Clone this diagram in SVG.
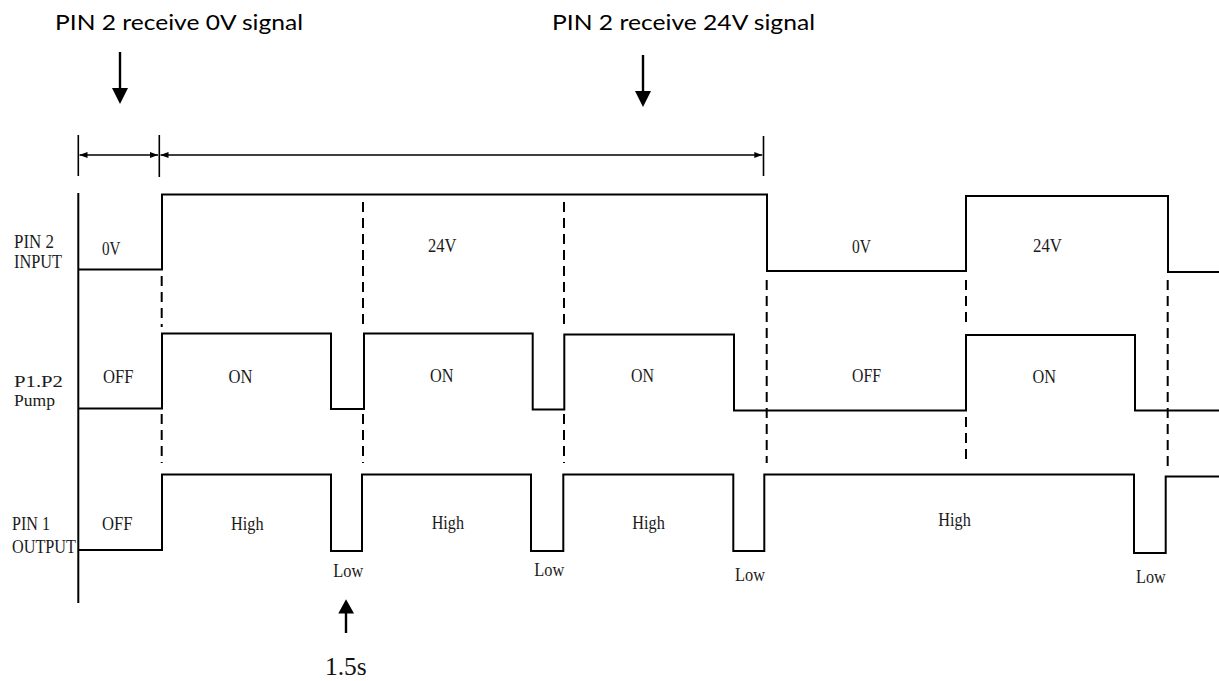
<svg xmlns="http://www.w3.org/2000/svg" width="1219" height="681" viewBox="0 0 1219 681">
<style>
.sig{fill:none;stroke:#000;stroke-width:2;stroke-linejoin:miter}
.dash{fill:none;stroke:#000;stroke-width:2;stroke-dasharray:10 6}
.brk{fill:none;stroke:#000;stroke-width:1.6}
.ar{fill:none;stroke:#000;stroke-width:2.4}
.hd{fill:#000}
.lbl{font-family:"Liberation Serif","Times New Roman",serif;font-size:19px;fill:#1a1a1a}
.sm{font-size:17px}
.top{font-family:Lato,"Open Sans",sans-serif;font-size:22px;fill:#000}
.big{font-family:"Liberation Serif","Times New Roman",serif;font-size:25px;fill:#111}
</style>
<defs>
<marker id="ah" viewBox="0 0 8 6" refX="8" refY="3" markerWidth="8" markerHeight="6" markerUnits="userSpaceOnUse" orient="auto-start-reverse">
<path d="M0,0 L8,3 L0,6 Z" fill="#000"/>
</marker>
</defs>

<g id="title-0v">
<text class="top" x="55" y="30" textLength="248" lengthAdjust="spacingAndGlyphs">PIN 2 receive 0V signal</text>
</g>
<g id="title-24v">
<text class="top" x="552" y="30" textLength="263" lengthAdjust="spacingAndGlyphs">PIN 2 receive 24V signal</text>
</g>

<g id="row-labels">
<text class="lbl" x="14" y="248" textLength="40" lengthAdjust="spacingAndGlyphs">PIN 2</text>
<text class="lbl" x="14" y="268" textLength="48" lengthAdjust="spacingAndGlyphs">INPUT</text>
<text class="lbl sm" x="14" y="387" textLength="49" lengthAdjust="spacingAndGlyphs">P1.P2</text>
<text class="lbl sm" x="14" y="406" textLength="41" lengthAdjust="spacingAndGlyphs">Pump</text>
<text class="lbl" x="12" y="530" textLength="38" lengthAdjust="spacingAndGlyphs">PIN 1</text>
<text class="lbl" x="12" y="553" textLength="64" lengthAdjust="spacingAndGlyphs">OUTPUT</text>
</g>

<g id="input-signal">
<path class="sig" d="M78,269.5 H162 V194.5 H767 V271 H966 V196 H1168 V272 H1219"/>
<text class="lbl" x="102" y="255" textLength="18.5" lengthAdjust="spacingAndGlyphs">0V</text>
<text class="lbl" x="428" y="252" textLength="28.5" lengthAdjust="spacingAndGlyphs">24V</text>
<text class="lbl" x="852" y="252.5" textLength="19" lengthAdjust="spacingAndGlyphs">0V</text>
<text class="lbl" x="1033" y="252" textLength="29" lengthAdjust="spacingAndGlyphs">24V</text>
</g>

<g id="pump-signal">
<path class="sig" d="M78,408.5 H162 V333.5 H331 V409 H364 V333.5 H532.7 V409.5 H564.3 V334.5 H734 V410.5 H966 V335 H1135 V410.5 H1219"/>
<text class="lbl" x="103" y="383" textLength="30.5" lengthAdjust="spacingAndGlyphs">OFF</text>
<text class="lbl" x="228.5" y="383" textLength="24" lengthAdjust="spacingAndGlyphs">ON</text>
<text class="lbl" x="430" y="382" textLength="23.5" lengthAdjust="spacingAndGlyphs">ON</text>
<text class="lbl" x="631" y="382" textLength="23" lengthAdjust="spacingAndGlyphs">ON</text>
<text class="lbl" x="852" y="382" textLength="29" lengthAdjust="spacingAndGlyphs">OFF</text>
<text class="lbl" x="1032.5" y="383" textLength="23.5" lengthAdjust="spacingAndGlyphs">ON</text>
</g>

<g id="output-signal">
<path class="sig" d="M78,550 H162 V474.5 H331 V551 H362 V474.5 H531 V551 H563.3 V474.5 H733.3 V551 H764.3 V474.5 H1134 V553 H1165.7 V476.5 H1219"/>
<text class="lbl" x="102" y="530" textLength="30.5" lengthAdjust="spacingAndGlyphs">OFF</text>
<text class="lbl" x="231" y="529.5" textLength="32.5" lengthAdjust="spacingAndGlyphs">High</text>
<text class="lbl" x="431.7" y="529.3" textLength="32.3" lengthAdjust="spacingAndGlyphs">High</text>
<text class="lbl" x="632.3" y="529.3" textLength="32.5" lengthAdjust="spacingAndGlyphs">High</text>
<text class="lbl" x="938.3" y="526" textLength="32.5" lengthAdjust="spacingAndGlyphs">High</text>
<text class="lbl" x="333.3" y="576.7" textLength="30" lengthAdjust="spacingAndGlyphs">Low</text>
<text class="lbl" x="534.3" y="576" textLength="30" lengthAdjust="spacingAndGlyphs">Low</text>
<text class="lbl" x="735" y="580.7" textLength="30" lengthAdjust="spacingAndGlyphs">Low</text>
<text class="lbl" x="1136" y="582.7" textLength="29.7" lengthAdjust="spacingAndGlyphs">Low</text>
</g>

<g id="time-note">
<text class="big" x="325" y="675" textLength="41.7" lengthAdjust="spacingAndGlyphs">1.5s</text>
</g>

<g id="connectors">
<path class="sig" d="M78.3,193 V603"/>
<path class="dash" d="M161.7,276 V327 M161.7,414 V463"/>
<path class="dash" d="M363,202 V328 M363,414 V463"/>
<path class="dash" d="M564,202 V328 M564,414 V463"/>
<path class="dash" d="M766.7,280 V463"/>
<path class="dash" d="M966,280 V327 M966,417 V463"/>
<path class="dash" d="M1167.7,280 V468"/>
<path class="brk" d="M78.3,135 V176 M159.3,135 V177 M763.5,136 V176"/>
<path class="brk" d="M79.5,155 H158" marker-start="url(#ah)" marker-end="url(#ah)"/>
<path class="brk" d="M160.5,155 H762.3" marker-start="url(#ah)" marker-end="url(#ah)"/>
<path class="ar" d="M120,52 V90"/>
<polygon class="hd" points="112,88 128,88 120,104"/>
<path class="ar" d="M643,55 V93"/>
<polygon class="hd" points="635,91 651,91 643,107"/>
<path class="ar" d="M346,633 V612"/>
<polygon class="hd" points="338.3,613.5 354,613.5 346,599.3"/>
</g>
</svg>
